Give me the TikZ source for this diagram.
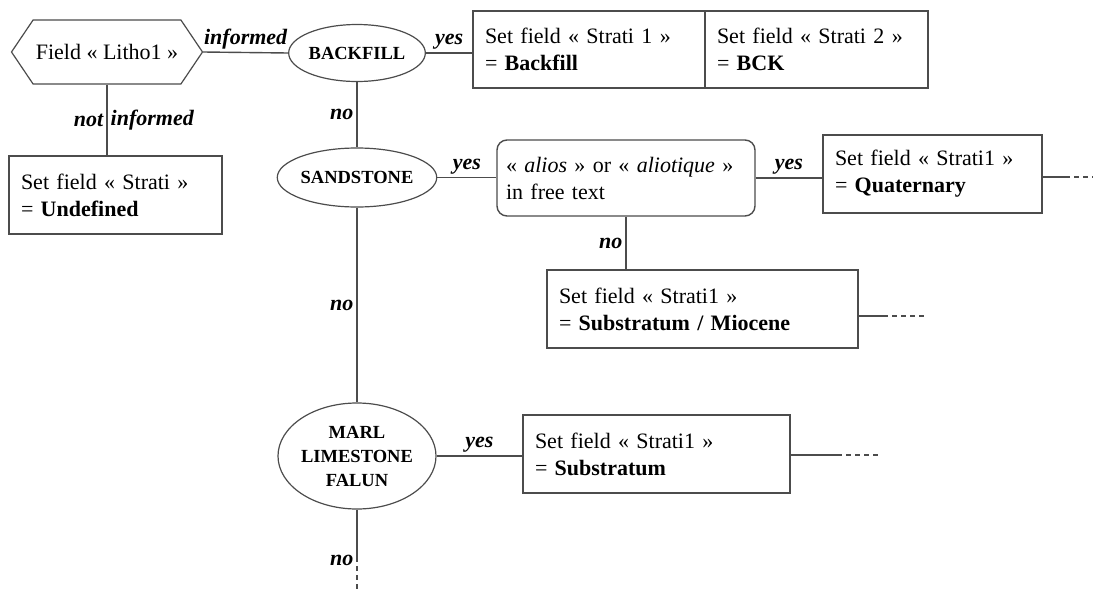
\documentclass[tikz,border=0pt]{standalone}
\usepackage{fontspec}
\setmainfont{Liberation Serif}
\usepackage{tikz}
\usetikzlibrary{positioning, shapes, shapes.symbols, shapes.geometric}
\newcommand{\boxfont}{\fontsize{22}{27}\selectfont}
\newcommand{\testfont}{\fontsize{18.5}{24}\selectfont\bfseries}
\newcommand{\labelfont}{\fontsize{22}{26}\selectfont\bfseries\itshape}
\tikzstyle{flowLine}=[draw=black!70, line width=1.4pt]
\tikzstyle{contLine}=[flowLine, dash pattern=on 5pt off 4pt]
\tikzstyle{setBox}=[draw=black!70, line width=1.4pt, rectangle, inner xsep=12pt, inner ysep=0pt, minimum height=78pt, align=left, font=\boxfont]
\tikzstyle{testNode}=[draw=black!70, line width=1.2pt, ellipse, inner sep=0pt, align=center, font=\testfont]
\tikzstyle{hexNode}=[draw=black!70, line width=1.2pt, signal, signal to=west and east, signal pointer angle=112, minimum width=191pt, minimum height=64pt, inner sep=0pt, font=\boxfont]
\tikzstyle{branchLabel}=[inner sep=3pt, font=\labelfont]

\begin{document}
\begin{tikzpicture}[x=1pt, y=-1pt]
  \useasboundingbox (0,0) rectangle (1093,592);

  % field Litho1
  \node[hexNode] (litho) at (107,52) {Field « Litho1 »};
  \node[setBox, text width=189pt] (undef) at (115.5,195) {Set field « Strati »\\= \textbf{Undefined}};

  % backfill test
  \node[testNode, minimum width=125pt, minimum height=57pt] (backfill) at (357,53) {BACKFILL};
  \node[setBox, text width=208pt, minimum height=77pt] (bckA) at (589,49.5) {Set field « Strati 1 »\\= \textbf{Backfill}};
  \node[setBox, text width=199pt, minimum height=77pt] (bckB) at (816.5,49.5) {Set field « Strati 2 »\\= \textbf{BCK}};

  % sandstone test
  \node[testNode, minimum width=138pt, minimum height=59pt] (sandstone) at (357,177.5) {SANDSTONE};
  \node[setBox, rounded corners=10pt, inner xsep=9pt, text width=240pt, minimum height=76pt] (alios) at (626,178) {« \textit{alios} » or « \textit{aliotique} »\\in free text};
  \node[setBox, text width=195pt] (quat) at (932.5,174) {Set field « Strati1 »\\= \textbf{Quaternary}};
  \node[setBox, text width=287pt] (mio) at (702.5,309) {Set field « Strati1 »\\= \textbf{Substratum / Miocene}};

  % marl test
  \node[testNode, minimum width=138pt, minimum height=106pt] (marl) at (357,456) {MARL\\LIMESTONE\\FALUN};
  \node[setBox, text width=243pt] (subst) at (656.5,454) {Set field « Strati1 »\\= \textbf{Substratum}};

  \coordinate (quatEnd) at (1065,177);
  \coordinate (quatOut) at (1093,177);
  \coordinate (mioEnd) at (883,316);
  \coordinate (mioOut) at (927,316);
  \coordinate (substEnd) at (837,455);
  \coordinate (substOut) at (878,455);
  \coordinate (marlEnd) at (357,557);
  \coordinate (marlOut) at (357,592);

  \draw[flowLine] (litho.east) -- node[branchLabel, above] {informed} (backfill.west);
  \draw[flowLine] (litho.south) -- node[branchLabel, left] {not} node[branchLabel, right] {informed} (litho.south |- undef.north);
  \draw[flowLine] (backfill.east) -- node[branchLabel, above] {yes} (backfill.east -| bckA.west);
  \draw[flowLine] (backfill) -- node[branchLabel, left] {no} (sandstone);

  \draw[flowLine] (sandstone) -- node[branchLabel, above] {yes} (sandstone -| alios.west);
  \draw[flowLine] (alios.east) -- node[branchLabel, above] {yes} (alios.east -| quat.west);
  \draw[flowLine] (alios.south) -- node[branchLabel, left] {no} (alios.south |- mio.north);
  \draw[flowLine] (sandstone) -- node[branchLabel, left] {no} (marl);

  \draw[flowLine] (marl) -- node[branchLabel, above] {yes} (marl -| subst.west);

  \draw[flowLine] (quat.east |- quatEnd) -- (quatEnd);
  \draw[contLine] (quatEnd) -- (quatOut);
  \draw[flowLine] (mio.east |- mioEnd) -- (mioEnd);
  \draw[contLine] (mioEnd) -- (mioOut);
  \draw[flowLine] (subst.east |- substEnd) -- (substEnd);
  \draw[contLine] (substEnd) -- (substOut);
  \draw[flowLine] (marl) -- (marlEnd);
  \draw[contLine] (marlEnd) -- node[branchLabel, left, pos=0.1] {no} (marlOut);
\end{tikzpicture}
\end{document}
